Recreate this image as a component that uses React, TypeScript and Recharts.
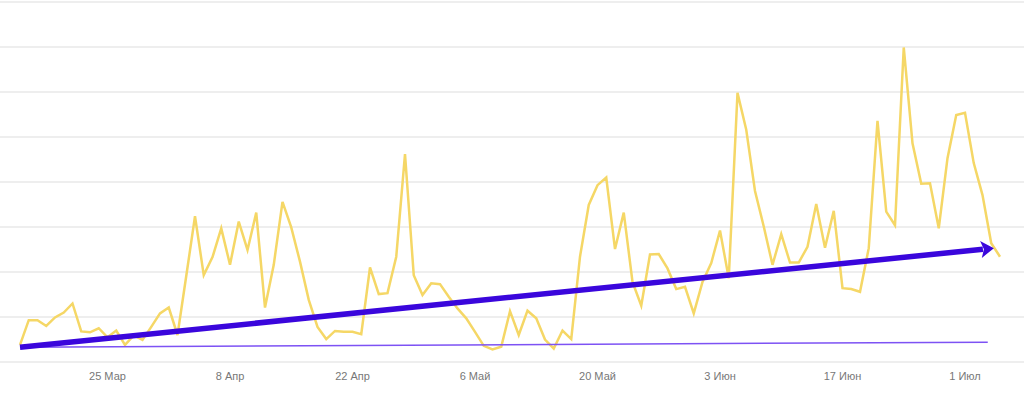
import React from 'react';
import { ComposedChart, Line, XAxis, YAxis, CartesianGrid, ReferenceLine } from 'recharts';

// daily values, 15 Mar .. 5 Jul (day index 0..112)
const days: number[] = Array.from({ length: 113 }, (_, i) => i);
const values: number[] = [
  3.8, 9.3, 9.3, 8.0, 9.9, 11.0, 13.0, 6.8, 6.6, 7.5,
  5.5, 7.0, 3.8, 5.9, 4.9, 7.8, 10.8, 12.1, 6.0, 19.1,
  32.4, 19.3, 23.3, 29.7, 21.6, 31.2, 24.9, 33.2, 12.1, 21.6,
  35.6, 29.9, 22.3, 13.8, 7.8, 5.1, 6.9, 6.7, 6.7, 6.2,
  21.0, 15.1, 15.3, 23.4, 46.2, 19.3, 14.9, 17.5, 17.3, 14.5,
  11.9, 9.7, 6.7, 3.6, 2.8, 3.4, 11.3, 6.0, 11.4, 9.7,
  5.0, 3.0, 7.0, 5.1, 23.4, 34.9, 39.3, 41.0, 25.1, 33.2,
  17.8, 12.5, 23.9, 24.0, 20.8, 16.2, 16.7, 10.8, 17.8, 22.0,
  29.2, 18.6, 59.8, 51.6, 38.0, 30.1, 21.6, 28.4, 22.1, 22.1,
  25.6, 35.1, 25.4, 33.6, 16.4, 16.2, 15.6, 25.3, 53.6, 33.4,
  30.4, 69.9, 48.6, 39.6, 39.7, 29.7, 45.3, 54.9, 55.4, 44.2,
  37.1, 26.4, 23.4,
];

// x tick positions (day index) and labels
const tickDays = [10, 24, 38, 52, 66, 80, 94, 108];
const tickLabels = ['25 Мар', '8 Апр', '22 Апр', '6 Май', '20 Май', '3 Июн', '17 Июн', '1 Июл'];

// trend lines: [start, end] as day / value
const arrowDays = [0, 111.3];
const arrowValues = [3.3, 25.3];
const flatDays = [0, 110.6];
const flatValues = [3.3, 4.4];

const yTicks = [0, 10, 20, 30, 40, 50, 60, 70, 80];

const data = days.map((d, i) => ({ day: d, value: values[i] }));
const flatData = flatDays.map((d, i) => ({ day: d, flat: flatValues[i] }));

const ArrowShape = (props: any) => {
  const { x1, y1, x2, y2 } = props;
  if ([x1, y1, x2, y2].some((v) => typeof v !== 'number')) return null;
  const dx = x2 - x1;
  const dy = y2 - y1;
  const len = Math.sqrt(dx * dx + dy * dy);
  const ux = dx / len;
  const uy = dy / len;
  const headLen = 13;
  const headHalf = 8.5;
  const bx = x2 - ux * headLen;
  const by = y2 - uy * headLen;
  const px = -uy;
  const py = ux;
  return (
    <g>
      <line x1={x1} y1={y1} x2={bx + ux * 2} y2={by + uy * 2} stroke="#3a06dc" strokeWidth={5.5} />
      <polygon
        points={`${x2},${y2} ${bx + px * headHalf},${by + py * headHalf} ${bx + ux * 3},${by + uy * 3} ${bx - px * headHalf},${by - py * headHalf}`}
        fill="#3a06dc"
      />
    </g>
  );
};

export default function App() {
  return (
    <div style={{ position: 'absolute', left: 0, top: 0, width: 1024, height: 394, background: '#fff' }}>
      <ComposedChart width={1024} height={394} data={data} margin={{ top: 2, right: 0, left: 0, bottom: 0 }}>
        <CartesianGrid vertical={false} stroke="#e9e9e9" strokeWidth={1.5} />
        <XAxis
          dataKey="day"
          type="number"
          domain={[0, 112]}
          padding={{ left: 20, right: 24 }}
          ticks={tickDays}
          tickFormatter={(v: number) => tickLabels[tickDays.indexOf(v)] ?? ''}
          axisLine={false}
          tickLine={false}
          height={32}
          tick={{ fontSize: 11, fill: '#777', fontFamily: 'Liberation Sans, Arial, sans-serif' }}
          tickMargin={4}
        />
        <YAxis hide domain={[0, 80]} ticks={yTicks} />
        <Line
          type="linear"
          dataKey="value"
          stroke="#f5d766"
          strokeWidth={2.5}
          dot={false}
          isAnimationActive={false}
        />
        <Line
          data={flatData}
          type="linear"
          dataKey="flat"
          stroke="#7d52f4"
          strokeWidth={1.5}
          dot={false}
          isAnimationActive={false}
        />
        <ReferenceLine
          segment={[
            { x: arrowDays[0], y: arrowValues[0] },
            { x: arrowDays[1], y: arrowValues[1] },
          ]}
          shape={ArrowShape}
          ifOverflow="visible"
        />
      </ComposedChart>
    </div>
  );
}
